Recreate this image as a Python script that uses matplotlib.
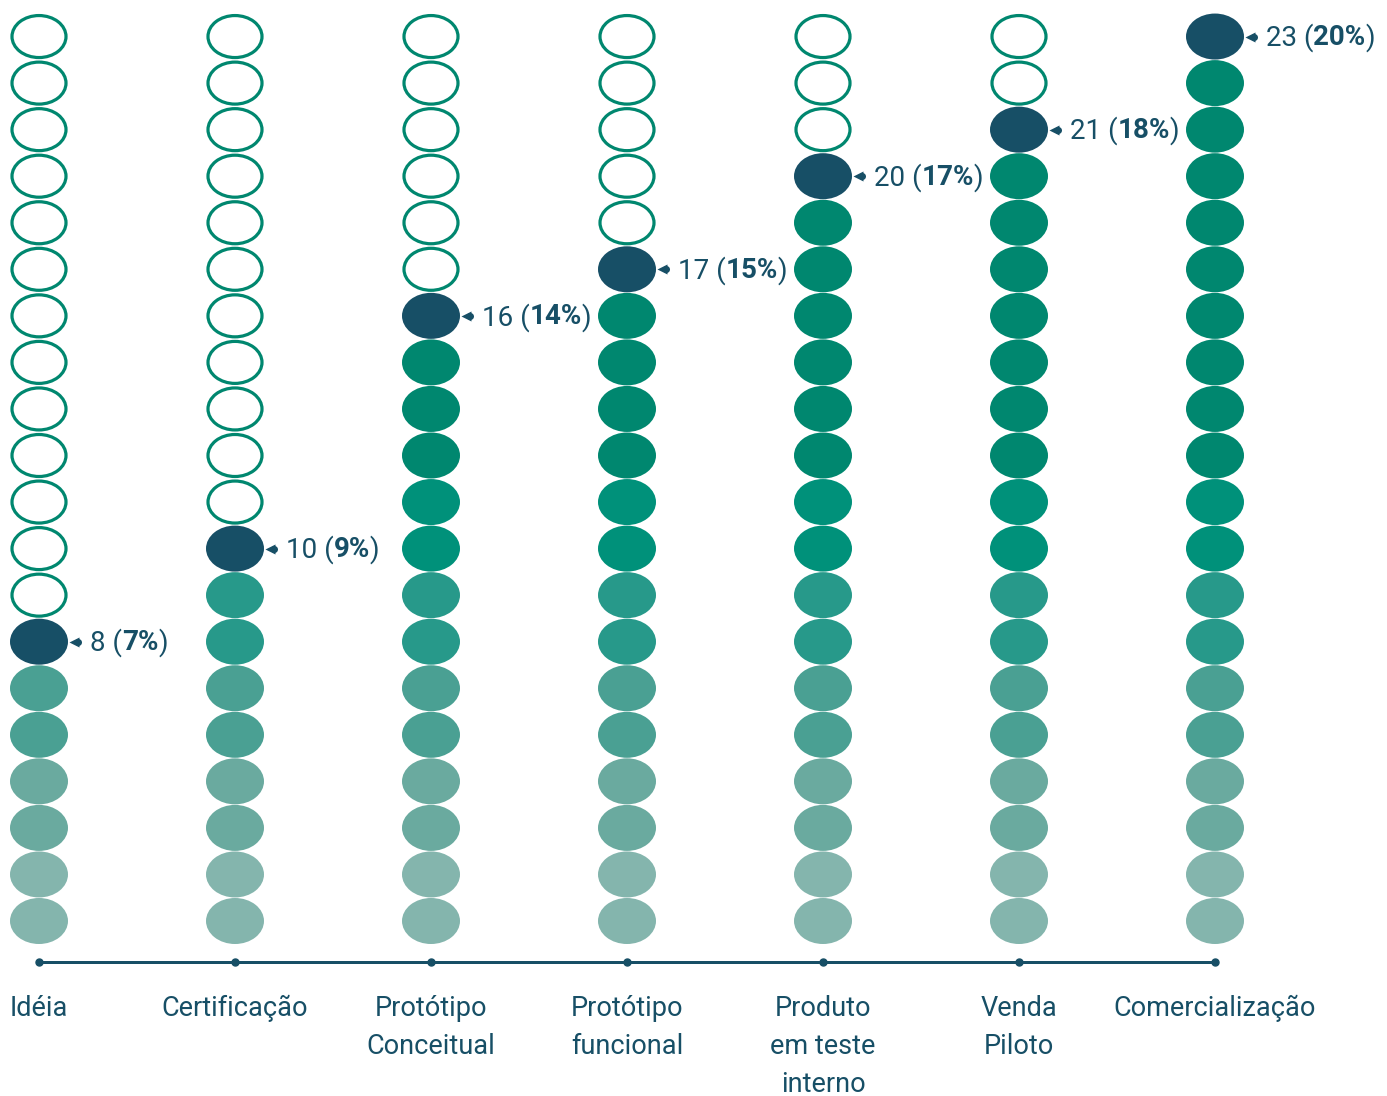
import matplotlib
matplotlib.use("Agg")
import matplotlib.pyplot as plt
from matplotlib.patches import Ellipse
from matplotlib import font_manager as fm

categories = ["Idéia", "Certificação", "Protótipo\nConceitual", "Protótipo\nfuncional",
              "Produto\nem teste\ninterno", "Venda\nPiloto", "Comercialização"]
counts = [8, 10, 16, 17, 20, 21, 23]
percents = [7, 9, 14, 15, 17, 18, 20]
n_rows = 20

row_colors = ["#84b5ad", "#84b5ad", "#6aaa9f", "#6aaa9f", "#4aa093", "#4aa093",
              "#27998a", "#27998a", "#00917a", "#00917a"] + ["#00876f"] * 10
dark = "#174f66"
edge = "#00876f"

names = {f.name for f in fm.fontManager.ttflist}
family = "Liberation Sans Narrow" if "Liberation Sans Narrow" in names else "Roboto"

W, H = 1387, 1096
fig = plt.figure(figsize=(W / 100, H / 100), dpi=100)
ax = fig.add_axes([0, 0, 1, 1])
col_px, row_px = 196.0, 46.55
x0 = -39 / col_px
ax.set_xlim(x0, x0 + W / col_px)
y0 = 1 - 175 / row_px
ax.set_ylim(y0, y0 + H / row_px)
ax.axis("off")

pt = 72 / 100  # points per pixel
for i, p in enumerate(percents):
    for r in range(1, n_rows + 1):
        if r < p:
            ax.add_patch(Ellipse((i, r), 58 / col_px, 46 / row_px, facecolor=row_colors[r - 1],
                                 edgecolor="none"))
        elif r == p:
            ax.add_patch(Ellipse((i, r), 58 / col_px, 46 / row_px, facecolor=dark,
                                 edgecolor="none"))
        else:
            ax.add_patch(Ellipse((i, r), 54 / col_px, 42 / row_px, facecolor="white",
                                 edgecolor=edge, linewidth=3.2 * pt))

# axis line
axis_y = 1 - 41 / row_px
ax.plot([0, len(categories) - 1], [axis_y, axis_y], color=dark, lw=3 * pt, zorder=1)
ax.plot(range(len(categories)), [axis_y] * len(categories), "o", color=dark, ms=7 * pt, zorder=2)

# category labels
fs = 24 if family == "Liberation Sans Narrow" else 19.5
for i, c in enumerate(categories):
    for k, line in enumerate(c.split("\n")):
        ax.text(i, 1 - (87 + 38 * k) / row_px, line, ha="center", va="center",
                fontsize=fs, color=dark, family=family)

# annotations
fig.canvas.draw()
renderer = fig.canvas.get_renderer()
for i, (c, p) in enumerate(zip(counts, percents)):
    ax.plot(i + 35 / col_px, p, marker="<", ms=10 * pt, color=dark, mec="none")
    ax.plot(i + 39 / col_px, p, marker="o", ms=7 * pt, color=dark, mec="none")
    x = i + 51 / col_px
    for txt, wt in [(f"{c} (", "normal"), (f"{p}%", "bold"), (")", "normal")]:
        t = ax.text(x, p + 0.04, txt, ha="left", va="center_baseline", fontsize=fs + 0.5,
                    color=dark, family=family, fontweight=wt)
        bb = t.get_window_extent(renderer)
        x += bb.width / col_px

fig.savefig("out.png", dpi=100, facecolor="white")
